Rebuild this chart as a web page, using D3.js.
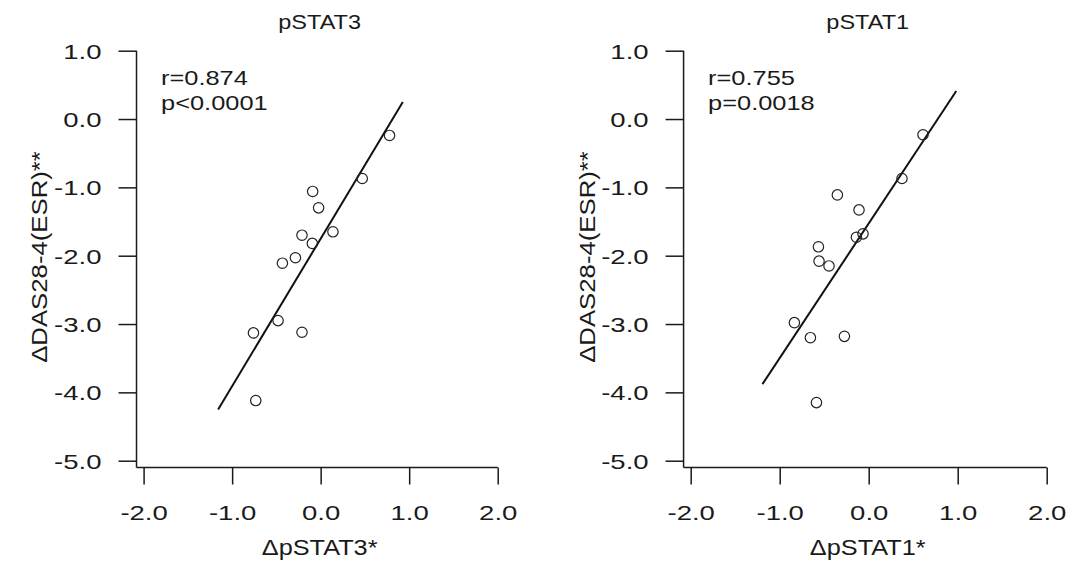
<!DOCTYPE html>
<html>
<head>
<meta charset="utf-8">
<script src="https://cdn.jsdelivr.net/npm/d3@7"></script>
<style>
  html, body { margin: 0; padding: 0; background: #fff; }
  svg { display: block; font-family: "Liberation Sans", Arial, Helvetica, sans-serif; }
</style>
</head>
<body>
<svg id="chart" width="1067" height="562"></svg>
<script>
// ---- data ----
const panelTitles = ["pSTAT3", "pSTAT1"];
const xLabels = ["\u0394pSTAT3*", "\u0394pSTAT1*"];
const yLabel = "\u0394DAS28-4(ESR)**";
const rTexts = ["r=0.874", "r=0.755"];
const pTexts = ["p<0.0001", "p=0.0018"];
const xTicks = [-2, -1, 0, 1, 2];
const yTicks = [1, 0, -1, -2, -3, -4, -5];

const stat3X = [0.778, 0.470, -0.090, -0.023, 0.139, -0.211, -0.094, -0.285, -0.432, -0.481, -0.759, -0.211, -0.733];
const stat3Y = [-0.24, -0.87, -1.06, -1.30, -1.65, -1.70, -1.82, -2.03, -2.11, -2.95, -3.13, -3.12, -4.12];
const stat1X = [0.610, 0.374, -0.352, -0.109, -0.064, -0.138, -0.565, -0.558, -0.446, -0.835, -0.655, -0.273, -0.587];
const stat1Y = [-0.23, -0.87, -1.11, -1.33, -1.68, -1.73, -1.87, -2.08, -2.15, -2.98, -3.20, -3.18, -4.15];

// fitted regression line end points (x, y)
const stat3FitX = [-1.158, 0.928];
const stat3FitY = [-4.25, 0.25];
const stat1FitX = [-1.194, 0.984];
const stat1FitY = [-3.88, 0.41];

// ---- layout ----
const svg = d3.select("#chart");
const panels = [
  { xs: stat3X, ys: stat3Y, fx: stat3FitX, fy: stat3FitY, xr: [143.6, 497.7], ylx: 47 },
  { xs: stat1X, ys: stat1Y, fx: stat1FitX, fy: stat1FitY, xr: [690.7, 1046.7], ylx: 595 }
];
const yRange = [460.7, 50.7];
const fmt = d => d.toFixed(1);
const ink = "#1a1a1a";
const FS = 21;

panels.forEach((p, i) => {
  const x = d3.scaleLinear().domain([-2, 2]).range(p.xr);
  const y = d3.scaleLinear().domain([-5, 1]).range(yRange);
  const g = svg.append("g");
  const axX = x(-2.08), axY = y(-5.1);

  // L-shaped frame
  g.append("line").attr("x1", axX).attr("x2", axX).attr("y1", y(1)).attr("y2", axY)
    .attr("stroke", ink).attr("stroke-width", 1.5);
  g.append("line").attr("x1", axX).attr("x2", x(2)).attr("y1", axY).attr("y2", axY)
    .attr("stroke", ink).attr("stroke-width", 1.5);

  // y axis
  const ya = g.append("g").attr("transform", `translate(${axX},0)`)
    .call(d3.axisLeft(y).tickValues(yTicks).tickFormat(fmt).tickSize(18));
  ya.select(".domain").remove();
  ya.selectAll("line").attr("stroke", ink).attr("stroke-width", 1.5);
  ya.selectAll("text").attr("x", 0).attr("dy", "0.36em")
    .attr("transform", "translate(-35,0) scale(1.31,1)")
    .attr("font-size", FS).attr("fill", ink).attr("font-family", null);

  // x axis
  const xa = g.append("g").attr("transform", `translate(0,${axY})`)
    .call(d3.axisBottom(x).tickValues(xTicks).tickFormat(fmt).tickSize(17));
  xa.select(".domain").remove();
  xa.selectAll("line").attr("stroke", ink).attr("stroke-width", 1.5);
  xa.selectAll("text").attr("y", 0).attr("dy", 0)
    .attr("transform", "translate(0,52.5) scale(1.31,1)")
    .attr("font-size", FS).attr("fill", ink).attr("font-family", null);

  // title
  g.append("text").attr("transform", `translate(${(x(-2) + x(2)) / 2 - 1},29) scale(1.12,1)`)
    .attr("text-anchor", "middle").attr("font-size", FS).attr("fill", ink)
    .text(panelTitles[i]);

  // x label
  g.append("text").attr("transform", `translate(${(x(-2) + x(2)) / 2 - 1},555) scale(1.15,1)`)
    .attr("text-anchor", "middle").attr("font-size", FS + 1).attr("fill", ink)
    .text(xLabels[i]);

  // y label
  g.append("text").attr("transform", `translate(${p.ylx},257) rotate(-90) scale(1.17,1)`)
    .attr("text-anchor", "middle").attr("font-size", FS + 1).attr("fill", ink)
    .text(yLabel);

  // annotations
  g.append("text").attr("transform", `translate(${axX + 24.5},85) scale(1.21,1)`)
    .attr("font-size", FS).attr("fill", ink).text(rTexts[i]);
  g.append("text").attr("transform", `translate(${axX + 24.5},110) scale(1.21,1)`)
    .attr("font-size", FS).attr("fill", ink).text(pTexts[i]);

  // regression line
  const fit = p.fx.map((v, k) => [v, p.fy[k]]);
  g.append("path").datum(fit)
    .attr("d", d3.line().x(d => x(d[0])).y(d => y(d[1])))
    .attr("stroke", "#111").attr("stroke-width", 2).attr("fill", "none");

  // points
  const pts = p.xs.map((v, k) => [v, p.ys[k]]);
  g.selectAll("circle.pt").data(pts).enter().append("circle")
    .attr("class", "pt")
    .attr("cx", d => x(d[0])).attr("cy", d => y(d[1])).attr("r", 5.2)
    .attr("fill", "none").attr("stroke", "#222").attr("stroke-width", 1.2);
});
</script>
</body>
</html>
